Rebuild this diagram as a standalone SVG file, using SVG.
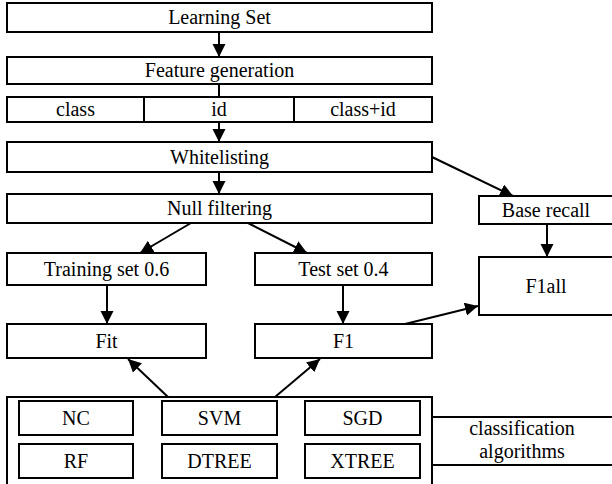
<svg xmlns="http://www.w3.org/2000/svg" width="612" height="484" viewBox="0 0 612 484">
<style>
rect{fill:#fff;stroke:#000;stroke-width:2}
text{font-size:20px;fill:#000;text-anchor:middle}
.c line{stroke:#000;stroke-width:2}
.a{marker-end:url(#ah)}
</style>
<defs>
<marker id="ah" markerUnits="userSpaceOnUse" markerWidth="14" markerHeight="14" refX="13" refY="6.5" orient="auto"><path d="M0,0 L13,6.5 L0,13 z" fill="#000"/></marker>
</defs>
<g class="c" id="connectors">
<line class="a" x1="219" y1="32" x2="219" y2="57"/>
<line x1="219" y1="84" x2="219" y2="97"/>
<line class="a" x1="219" y1="122" x2="219" y2="142"/>
<line class="a" x1="219" y1="172" x2="219" y2="194"/>
<line class="a" x1="432" y1="157" x2="513" y2="196"/>
<line class="a" x1="191" y1="223" x2="140" y2="253"/>
<line class="a" x1="248" y1="223" x2="307" y2="253"/>
<line class="a" x1="547" y1="224" x2="547" y2="257"/>
<line class="a" x1="107" y1="285" x2="107" y2="324"/>
<line class="a" x1="343" y1="285" x2="343" y2="324"/>
<line class="a" x1="405" y1="324" x2="478" y2="306"/>
<line class="a" x1="168" y1="397" x2="128" y2="359"/>
<line class="a" x1="275" y1="397" x2="320" y2="359"/>
</g>
<g font-family="Liberation Serif, DejaVu Serif, Times New Roman, serif">
<g id="learning-set"><rect x="7" y="3" width="425" height="29"/><text x="219.5" y="24">Learning Set</text></g>
<g id="feature-generation"><rect x="7" y="57" width="425" height="27"/><text x="219.5" y="77">Feature generation</text></g>
<g id="feature-class"><rect x="7" y="97" width="137" height="25"/><text x="75.5" y="116">class</text></g>
<g id="feature-id"><rect x="144" y="97" width="150" height="25"/><text x="219" y="116">id</text></g>
<g id="feature-classid"><rect x="294" y="97" width="138" height="25"/><text x="363" y="116">class+id</text></g>
<g id="whitelisting"><rect x="7" y="142" width="425" height="30"/><text x="219.5" y="164">Whitelisting</text></g>
<g id="null-filtering"><rect x="7" y="194" width="425" height="29"/><text x="219.5" y="215">Null filtering</text></g>
<g id="base-recall"><rect x="479" y="196" width="135" height="28"/><text x="546" y="216.5">Base recall</text></g>
<g id="training-set"><rect x="7" y="253" width="199" height="32"/><text x="106.5" y="275.5">Training set 0.6</text></g>
<g id="test-set"><rect x="255" y="253" width="177" height="32"/><text x="343.5" y="275.5">Test set 0.4</text></g>
<g id="f1all"><rect x="479" y="257" width="135" height="58"/><text x="546" y="292.5">F1all</text></g>
<g id="fit"><rect x="7" y="324" width="199" height="34"/><text x="106.5" y="347.5">Fit</text></g>
<g id="f1"><rect x="255" y="324" width="177" height="34"/><text x="343.5" y="347.5">F1</text></g>
<g id="classification-algorithms">
<rect x="432" y="417" width="182" height="48"/>
<text x="522" y="435">classification</text>
<text x="522" y="458">algorithms</text>
</g>
<g id="algorithms"><rect x="7" y="397" width="425" height="95"/></g>
<g id="nc"><rect x="19" y="401" width="114" height="34"/><text x="76" y="424.5">NC</text></g>
<g id="svm"><rect x="162" y="401" width="115" height="34"/><text x="219.5" y="424.5">SVM</text></g>
<g id="sgd"><rect x="305" y="401" width="115" height="34"/><text x="362.5" y="424.5">SGD</text></g>
<g id="rf"><rect x="19" y="444" width="114" height="34"/><text x="76" y="467.5">RF</text></g>
<g id="dtree"><rect x="162" y="444" width="115" height="34"/><text x="219.5" y="467.5">DTREE</text></g>
<g id="xtree"><rect x="305" y="444" width="115" height="34"/><text x="362.5" y="467.5">XTREE</text></g>
</g>
</svg>
